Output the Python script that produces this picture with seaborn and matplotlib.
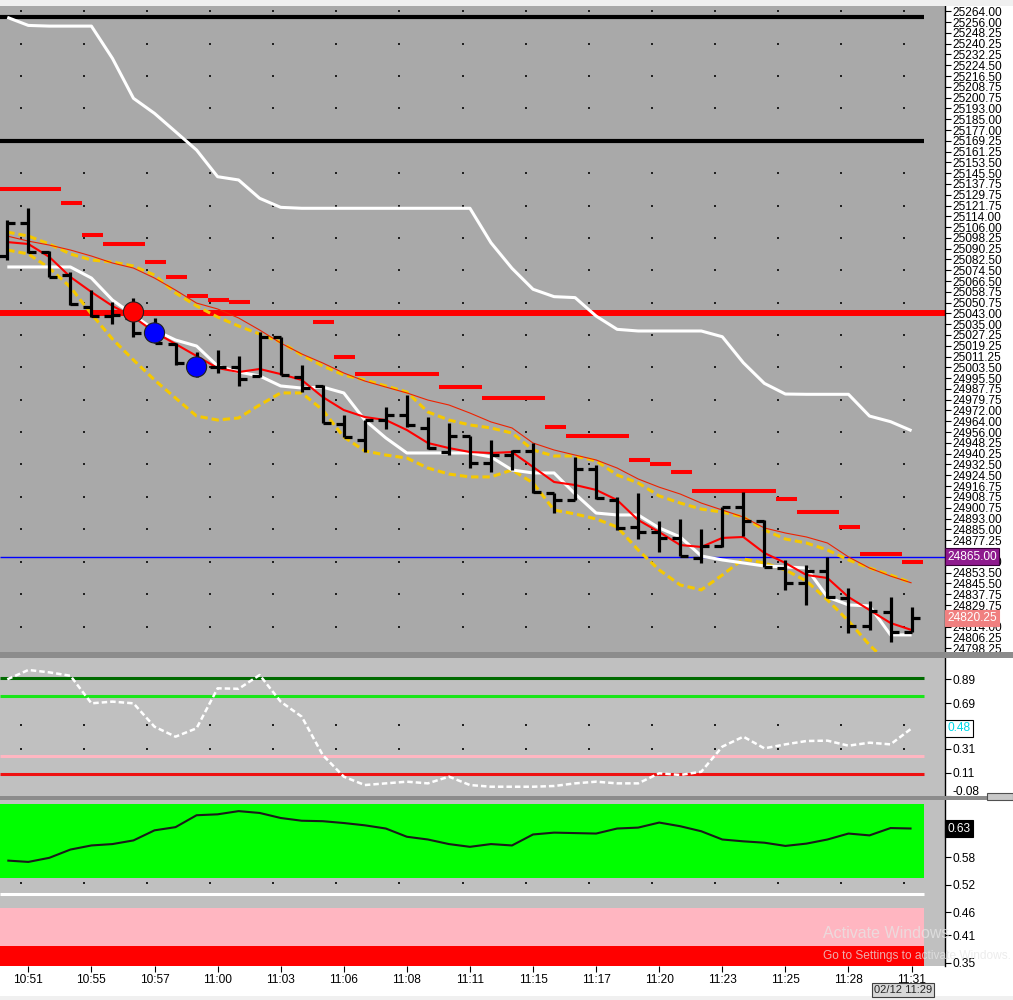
import numpy as np
import pandas as pd
import matplotlib
matplotlib.use("Agg")
import matplotlib.pyplot as plt
import seaborn as sns
from matplotlib.patches import Rectangle
from matplotlib.transforms import blended_transform_factory, ScaledTranslation

sns.set_style("white")
plt.rcParams['font.family'] = ['Liberation Sans', 'DejaVu Sans']
plt.rcParams['lines.solid_capstyle'] = 'butt'

# ---------------- data ----------------
time_labels = ["10:51", "10:55", "10:57", "11:00", "11:03", "11:06", "11:08", "11:11",
               "11:15", "11:17", "11:20", "11:23", "11:25", "11:28", "11:31"]

bar_open = [25085.0, 25109.0, 25087.75, 25071.0, 25047.5, 25041.0, 25039.5, 25030.75, 25020.5, 25005.25,
            25003.75, 25003.75, 24997.25, 25025.75, 24996.5, 24990.0, 24962.0, 24950.5, 24965.0, 24968.75,
            24959.25, 24941.75, 24953.25, 24933.5, 24939.5, 24942.5, 24911.75, 24906.5, 24929.25, 24906.75,
            24886.75, 24883.0, 24878.75, 24864.0, 24873.0, 24901.25, 24891.25, 24856.75, 24846.0, 24854.5,
            24835.0, 24814.5, 24824.75, 24810.0]
bar_high = [25111.25, 25120.0, 25088.5, 25073.25, 25060.0, 25051.25, 25054.25, 25039.5, 25021.25, 25014.75,
            25016.25, 25011.75, 25029.25, 25025.75, 25005.25, 24990.5, 24968.75, 24965.0, 24974.5, 24983.25,
            24967.25, 24963.0, 24953.25, 24950.5, 24943.0, 24948.25, 24911.75, 24938.0, 24932.0, 24908.75,
            24911.5, 24891.25, 24892.75, 24885.25, 24901.5, 24912.25, 24892.0, 24862.75, 24859.0, 24865.0,
            24842.25, 24832.75, 24835.75, 24828.25]
bar_low = [25082.0, 25087.0, 25069.5, 25049.0, 25040.25, 25035.25, 25025.75, 25021.25, 25005.25, 24996.5,
           24999.5, 24990.0, 24996.5, 24998.0, 24985.5, 24962.75, 24952.5, 24941.5, 24958.5, 24960.0,
           24943.75, 24939.5, 24930.0, 24927.0, 24928.5, 24911.75, 24897.0, 24906.5, 24907.25, 24884.5,
           24878.0, 24868.5, 24865.5, 24860.5, 24872.25, 24880.25, 24857.5, 24840.75, 24829.75, 24835.0,
           24809.25, 24811.5, 24802.75, 24810.0]
bar_close = [25109.0, 25087.75, 25069.75, 25050.0, 25041.0, 25041.75, 25028.75, 25021.25, 25006.75, 25001.5,
             25003.75, 24995.0, 25025.75, 24998.0, 24988.5, 24962.75, 24952.5, 24965.0, 24968.75, 24961.5,
             24944.5, 24953.25, 24933.5, 24939.5, 24942.5, 24912.5, 24906.5, 24929.25, 24908.0, 24886.0,
             24883.0, 24878.75, 24865.5, 24873.0, 24901.25, 24891.25, 24857.5, 24846.0, 24854.5, 24835.5,
             24814.5, 24825.5, 24810.0, 24820.25]

fast_ma = [25095.1, 25093.7, 25084.2, 25069.6, 25058.6, 25048.4, 25040.3, 25029.3, 25020.6, 25011.8,
           25003.0, 25000.1, 25002.3, 24998.6, 24994.3, 24981.8, 24972.3, 24967.2, 24965.0, 24957.7,
           24948.2, 24944.5, 24941.6, 24940.9, 24941.6, 24930.7, 24919.7, 24917.5, 24913.9, 24906.5,
           24891.9, 24883.1, 24873.6, 24872.2, 24878.8, 24879.5, 24867.8, 24860.5, 24851.7, 24849.5,
           24835.6, 24826.1, 24816.6, 24811.5]
slow_ma = [25099.5, 25095.8, 25092.9, 25089.3, 25084.9, 25079.8, 25076.1, 25068.8, 25060.0, 25050.5,
           25046.2, 25039.6, 25030.8, 25021.3, 25013.3, 25006.7, 24999.4, 24993.5, 24989.1, 24984.8,
           24979.6, 24976.0, 24970.1, 24963.6, 24959.2, 24948.2, 24943.1, 24939.4, 24935.8, 24929.9,
           24921.9, 24915.9, 24910.9, 24904.3, 24899.2, 24894.1, 24886.1, 24882.4, 24879.5, 24875.1,
           24864.9, 24856.8, 24850.9, 24845.9]
band_upper = [25102.4, 25099.5, 25093.7, 25086.4, 25082.0, 25080.5, 25077.6, 25071.0, 25057.9, 25048.4,
              25040.3, 25033.7, 25027.9, 25022.0, 25012.5, 25004.5, 24997.9, 24994.3, 24989.9, 24985.5,
              24970.9, 24965.0, 24961.4, 24959.2, 24955.5, 24943.1, 24938.7, 24938.7, 24935.1, 24924.8,
              24919.0, 24909.5, 24904.3, 24899.9, 24897.7, 24894.1, 24884.6, 24878.0, 24875.1, 24870.0,
              24862.7, 24856.8, 24851.7, 24845.9]
band_lower = [25089.3, 25086.4, 25076.1, 25062.2, 25042.5, 25024.2, 25008.9, 24994.3, 24981.1, 24967.9,
              24965.0, 24966.5, 24976.0, 24984.8, 24984.8, 24972.3, 24952.6, 24942.4, 24939.4, 24937.2,
              24929.9, 24925.5, 24923.4, 24923.4, 24928.5, 24919.0, 24899.2, 24896.3, 24892.7, 24886.8,
              24870.0, 24855.4, 24844.4, 24840.8, 24851.7, 24863.4, 24860.5, 24855.4, 24847.3, 24833.4,
              24818.1, 24800.5, 24785.9, 24771.3]
trail_low = [25076.9, 25076.9, 25076.9, 25076.9, 25068.8, 25052.7, 25041.8, 25030.8, 25023.5, 25019.1,
             25004.5, 25000.1, 24997.2, 24989.9, 24988.4, 24989.1, 24984.8, 24965.0, 24951.9, 24940.9,
             24940.9, 24940.9, 24940.9, 24938.0, 24928.5, 24926.3, 24926.3, 24911.0, 24897.0, 24895.6,
             24895.6, 24886.1, 24879.5, 24865.6, 24862.7, 24860.5, 24858.3, 24857.6, 24856.8, 24835.6,
             24829.8, 24829.1, 24807.9, 24807.9]
trail_high = [25259.4, 25253.5, 25253.0, 25253.0, 25253.0, 25229.4, 25200.2, 25189.2, 25175.8, 25162.4,
              25142.9, 25140.5, 25127.1, 25120.5, 25119.8, 25119.8, 25119.8, 25119.8, 25119.8, 25119.8,
              25119.8, 25119.8, 25119.8, 25094.6, 25075.9, 25060.6, 25055.2, 25054.5, 25041.0, 25031.3,
              25030.1, 25030.1, 25030.1, 25030.1, 25025.9, 25006.9, 24991.8, 24984.0, 24983.8, 24983.8,
              24983.8, 24967.9, 24963.8, 24957.2]
stop_dash = [25133.9, 25133.9, 25133.9, 25123.6, 25100.3, 25093.7, 25093.7, 25080.5, 25069.6, 25055.7,
             25052.7, 25051.3, np.nan, np.nan, np.nan, 25036.6, 25011.1, 24998.6, 24998.6, 24998.6,
             24998.6, 24989.1, 24989.1, 24981.1, 24981.1, 24981.1, 24959.9, 24953.3, 24953.3, 24953.3,
             24935.8, 24932.9, 24927.0, 24913.1, 24913.1, 24913.1, 24913.1, 24907.3, 24897.8, 24897.8,
             24886.8, 24867.1, 24867.1, 24861.2]

signal_bars = [6, 7, 9]
signal_prices = [25044.0, 25028.7, 25003.8]
signal_kind = ["sell", "buy", "buy"]

level_black = [25260.0, 25169.25]
level_red = 25043.0
level_blue = 24865.0

price_ticks = [25264.00, 25256.00, 25248.25, 25240.25, 25232.25, 25224.50, 25216.50, 25208.75, 25200.75,
               25193.00, 25185.00, 25177.00, 25169.25, 25161.25, 25153.50, 25145.50, 25137.75, 25129.75,
               25121.75, 25114.00, 25106.00, 25098.25, 25090.25, 25082.50, 25074.50, 25066.50, 25058.75,
               25050.75, 25043.00, 25035.00, 25027.25, 25019.25, 25011.25, 25003.50, 24995.50, 24987.75,
               24979.75, 24972.00, 24964.00, 24956.00, 24948.25, 24940.25, 24932.50, 24924.50, 24916.75,
               24908.75, 24900.75, 24893.00, 24885.00, 24877.25, 24869.25, 24861.50, 24853.50, 24845.50,
               24837.75, 24829.75, 24821.75, 24814.00, 24806.25, 24798.25]
# tick labels hidden under the current-value boxes in the reference
hidden_price_labels = [24869.25, 24821.75]

osc_values = [0.889, 0.967, 0.947, 0.919, 0.689, 0.703, 0.689, 0.494, 0.411, 0.481,
              0.814, 0.81, 0.925, 0.703, 0.578, 0.258, 0.078, 0.008, 0.022, 0.036,
              0.022, 0.078, 0.008, -0.006, -0.006, -0.006, 0.0, 0.022, 0.036, 0.022,
              0.022, 0.106, 0.092, 0.119, 0.328, 0.411, 0.314, 0.347, 0.375, 0.378,
              0.336, 0.361, 0.347, 0.48]
osc_levels = [0.9, 0.75, 0.25, 0.1]
osc_level_colors = ["#006a00", "#19e619", "#ffb6c1", "#ee1111"]
osc_ticks = [0.89, 0.69, 0.31, 0.11, -0.08]

str_values = [0.573, 0.570, 0.579, 0.597, 0.606, 0.609, 0.617, 0.639, 0.646, 0.672,
              0.674, 0.681, 0.677, 0.666, 0.660, 0.659, 0.655, 0.650, 0.643, 0.625,
              0.619, 0.609, 0.603, 0.609, 0.606, 0.630, 0.634, 0.633, 0.632, 0.643,
              0.645, 0.656, 0.648, 0.637, 0.619, 0.615, 0.612, 0.605, 0.610, 0.619,
              0.632, 0.628, 0.644, 0.643]
str_last_label = "0.63"
str_green_band = (0.535, 0.697)
str_white_level = 0.499
str_pink_band = (0.386, 0.470)
str_ticks = [0.58, 0.52, 0.46, 0.41, 0.35]
date_label = "02/12 11:29"

# ---------------- layout ----------------
W, H = 1013, 1000
fig = plt.figure(figsize=(W / 100, H / 100), dpi=100, facecolor="white")


def frac(x0, y0, x1, y1):
    return [x0 / W, 1 - y1 / H, (x1 - x0) / W, (y1 - y0) / H]


ax1 = fig.add_axes(frac(0, 6, 945, 652))
ax2 = fig.add_axes(frac(0, 658, 945, 796))
ax3 = fig.add_axes(frac(0, 800, 945, 966))

n = len(bar_close)
idx = np.arange(n)
x_left, x_right = -0.347, 44.59
line_end = (43.59 - x_left) / (x_right - x_left)
tick_idx = idx[1::3]
grid_cols = tick_idx - 0.35

df = pd.DataFrame({"bar": idx, "fast": fast_ma, "slow": slow_ma, "up": band_upper, "lo": band_lower,
                   "tl": trail_low, "th": trail_high, "osc": osc_values, "str": str_values})

for ax, fc in ((ax1, "#a9a9a9"), (ax2, "#c0c0c0"), (ax3, "#c0c0c0")):
    ax.set_facecolor(fc)
    ax.set_xlim(x_left, x_right)
    for s in ("top", "left", "bottom"):
        ax.spines[s].set_visible(False)
    ax.spines["right"].set_color("black")
    ax.spines["right"].set_linewidth(1.0)
    ax.yaxis.tick_right()
    ax.tick_params(axis="y", which="both", direction="out", length=4, width=0.8, pad=1.5,
                   labelsize=8.6, colors="black", left=False, right=True)

# ---------------- main price panel ----------------
ax1.set_ylim(24795.4, 25267.7)
gx, gy = np.meshgrid(grid_cols, price_ticks[::3])
ax1.scatter(gx.ravel(), gy.ravel(), s=1.1, marker="s", color="#202020", linewidths=0, zorder=1)

for lv in level_black:
    ax1.axhline(lv, xmin=0, xmax=line_end, color="black", lw=3.0, zorder=2)
ax1.axhline(level_red, color="#ff0000", lw=4.3, zorder=2)
ax1.axhline(level_blue, color="#0000ff", lw=1.0, zorder=2)

sns.lineplot(data=df, x="bar", y="th", ax=ax1, color="white", lw=2.2, zorder=3)

sd = np.array(stop_dash)
ok = ~np.isnan(sd)
ax1.hlines(sd[ok], idx[ok] - 0.45, idx[ok] + 0.55, colors="#ff0000", lw=2.9, zorder=3)

sns.lineplot(data=df, x="bar", y="up", ax=ax1, color="#f5c800", lw=2.2,
             linestyle=(0, (2.4, 1.3)), zorder=4)
sns.lineplot(data=df, x="bar", y="lo", ax=ax1, color="#f5c800", lw=2.2,
             linestyle=(0, (2.4, 1.3)), zorder=4)
sns.lineplot(data=df, x="bar", y="tl", ax=ax1, color="white", lw=2.2, zorder=4)
sns.lineplot(data=df, x="bar", y="slow", ax=ax1, color="#ee2200", lw=0.8, zorder=4.5)
sns.lineplot(data=df, x="bar", y="fast", ax=ax1, color="#ff0000", lw=1.5, zorder=5)

ax1.vlines(idx, bar_low, bar_high, colors="black", lw=2.3, zorder=6)
ax1.hlines(bar_open, idx - 0.38, idx, colors="black", lw=2.3, zorder=6)
ax1.hlines(bar_close, idx, idx + 0.38, colors="black", lw=2.3, zorder=6)

sig = pd.DataFrame({"bar": signal_bars, "price": signal_prices, "kind": signal_kind})
sns.scatterplot(data=sig, x="bar", y="price", hue="kind", palette={"sell": "#ff0000", "buy": "#0000ff"},
                s=210, edgecolor="#202020", linewidth=0.8, legend=False, ax=ax1, zorder=7)

ax1.set_yticks(price_ticks)
ax1.set_yticklabels(["" if v in hidden_price_labels else f"{v:.2f}" for v in price_ticks])
ax1.set_ylim(24795.4, 25267.7)
ax1.set_xlim(x_left, x_right)
ax1.tick_params(axis="x", bottom=False, labelbottom=False)
ax1.set_xlabel("")
ax1.set_ylabel("")

t1 = blended_transform_factory(ax1.transAxes, ax1.transData)
ax1.text(1.0025, level_blue, f"{level_blue:.2f}", transform=t1, ha="left", va="center", fontsize=8.6,
         color="white", zorder=10, clip_on=False,
         bbox=dict(boxstyle="square,pad=0.2", fc="#8e1a8e", ec="#3a003a", lw=0.8))
ax1.text(1.0025, bar_close[-1], f"{bar_close[-1]:.2f}", transform=t1, ha="left", va="center",
         fontsize=8.6, color="white", zorder=10, clip_on=False,
         bbox=dict(boxstyle="square,pad=0.2", fc="#f08080", ec="#f08080", lw=0.8))

# ---------------- oscillator panel ----------------
ax2.set_ylim(-0.0833, 1.0667)
gx2, gy2 = np.meshgrid(grid_cols, [0.508, 0.306])
ax2.scatter(gx2.ravel(), gy2.ravel(), s=1.1, marker="s", color="#202020", linewidths=0, zorder=1)
for lv, c in zip(osc_levels, osc_level_colors):
    ax2.axhline(lv, xmin=0, xmax=line_end, color=c, lw=2.2, zorder=2)
sns.lineplot(data=df, x="bar", y="osc", ax=ax2, color="white", lw=1.8,
             linestyle=(0, (2.2, 1.2)), zorder=3)
ax2.set_yticks(osc_ticks)
ax2.set_yticklabels([f"{v:.2f}" for v in osc_ticks])
ax2.set_ylim(-0.0833, 1.0667)
ax2.set_xlim(x_left, x_right)
ax2.tick_params(axis="x", bottom=False, labelbottom=False)
ax2.set_xlabel("")
ax2.set_ylabel("")
# the bottom label sits slightly raised above the panel separator
last_lbl = ax2.get_yticklabels()[-1]
last_lbl.set_transform(last_lbl.get_transform() + ScaledTranslation(0, 3.5 / 72, fig.dpi_scale_trans))
t2 = blended_transform_factory(ax2.transAxes, ax2.transData)
ax2.text(1.0025, osc_values[-1], f"{osc_values[-1]:.2f}", transform=t2, ha="left", va="center",
         fontsize=8.6, color="#00d8e8", zorder=10, clip_on=False,
         bbox=dict(boxstyle="square,pad=0.2", fc="white", ec="black", lw=0.8))

# ---------------- strength panel ----------------
ax3.set_ylim(0.3426, 0.7053)
ax3.axhspan(str_green_band[0], str_green_band[1], xmin=0, xmax=line_end, color="#00ff00", lw=0, zorder=1)
ax3.axhspan(str_pink_band[0], str_pink_band[1], xmin=0, xmax=line_end, color="#ffb6c1", lw=0, zorder=1)
ax3.axhspan(0.3426, str_pink_band[0], xmin=0, xmax=line_end, color="#ff0000", lw=0, zorder=1)
ax3.axhline(str_white_level, xmin=0, xmax=line_end, color="white", lw=2.2, zorder=2)
gx3, gy3 = np.meshgrid(grid_cols, [0.523])
ax3.scatter(gx3.ravel(), gy3.ravel(), s=1.1, marker="s", color="#202020", linewidths=0, zorder=2)
sns.lineplot(data=df, x="bar", y="str", ax=ax3, color="#1a1a1a", lw=1.5, zorder=3)
ax3.set_yticks(str_ticks)
ax3.set_yticklabels([f"{v:.2f}" for v in str_ticks])
ax3.set_ylim(0.3426, 0.7053)
ax3.set_xlim(x_left, x_right)
ax3.set_xticks(tick_idx)
ax3.set_xticklabels(time_labels)
ax3.tick_params(axis="x", direction="out", length=4, width=0.8, pad=2, labelsize=8.6,
                colors="black", bottom=True)
ax3.set_xlabel("")
ax3.set_ylabel("")
t3 = blended_transform_factory(ax3.transAxes, ax3.transData)
ax3.text(1.0025, str_values[-1], str_last_label, transform=t3, ha="left", va="center",
         fontsize=8.6, color="white", zorder=10, clip_on=False,
         bbox=dict(boxstyle="square,pad=0.2", fc="black", ec="black", lw=0.8))

# ---------------- frame decorations ----------------
fig.add_artist(Rectangle((0, 1 - 6 / H), 1, 6 / H, transform=fig.transFigure, fc="#f0f0f0", ec="none"))
fig.add_artist(Rectangle((0, 1 - 658 / H), 1, 6 / H, transform=fig.transFigure, fc="#8c8c8c", ec="none"))
fig.add_artist(Rectangle((0, 1 - 800 / H), 1, 4 / H, transform=fig.transFigure, fc="#8c8c8c", ec="none"))
fig.add_artist(Rectangle((0, 0), 1, 4 / H, transform=fig.transFigure, fc="#f0f0f0", ec="none"))
fig.add_artist(Rectangle((987 / W, 1 - 800 / H), 26 / W, 7 / H, transform=fig.transFigure,
                         fc="#c8c8c8", ec="#505050", lw=0.8))

fig.text(903 / W, 1 - 990 / H, date_label, ha="center", va="center", fontsize=8,
         bbox=dict(boxstyle="square,pad=0.15", fc="#d8d8d8", ec="#404040", lw=0.8))

fig.text(823 / W, 1 - 933 / H, "Activate Windows", ha="left", va="center", fontsize=11.5,
         color="#e6e6e6", alpha=0.75)
fig.text(823 / W, 1 - 956 / H, "Go to Settings to activate Windows.", ha="left", va="center",
         fontsize=8.6, color="#e6e6e6", alpha=0.75)

fig.savefig("out.png", dpi=100, facecolor="white")
